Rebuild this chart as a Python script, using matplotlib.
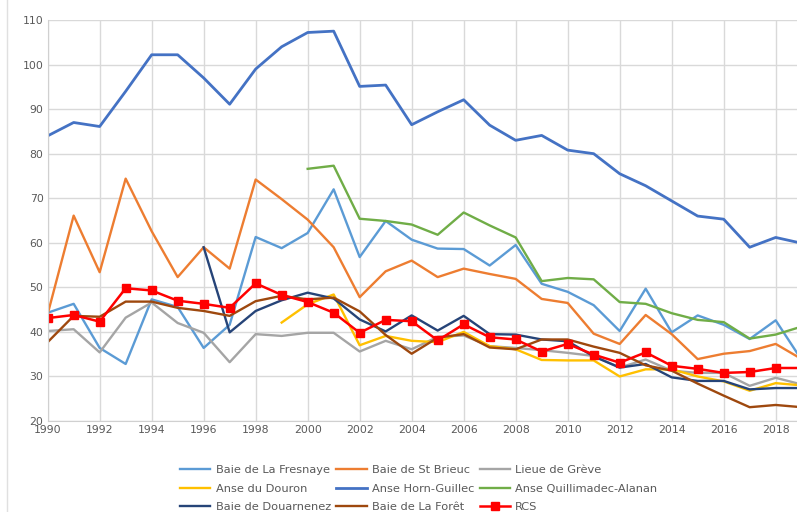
import numpy as np
import matplotlib.pyplot as plt
from matplotlib.lines import Line2D

years = np.arange(1990, 2020)

fresnaye = [44.3, 46.3, 36.4, 32.8, 47.3, 45.6, 36.4, 41.6, 61.3, 58.8, 62.2, 72.0, 56.8, 64.9,
            60.7, 58.7, 58.6, 54.9, 59.5, 50.8, 49.0, 46.0, 40.2, 49.7, 39.9, 43.7, 41.6, 38.4,
            42.6, 33.7]
st_brieuc = [44.0, 66.1, 53.4, 74.4, 62.6, 52.3, 59.0, 54.2, 74.2, 69.8, 65.2, 59.0, 47.8, 53.6,
             56.0, 52.3, 54.2, 53.0, 51.9, 47.4, 46.5, 39.6, 37.3, 43.8, 39.5, 33.9, 35.1, 35.7,
             37.3, 33.9]
greve = [40.2, 40.6, 35.4, 43.2, 46.6, 42.0, 39.8, 33.2, 39.5, 39.1, 39.8, 39.8, 35.6, 38.0,
         36.1, 38.9, 39.2, 36.8, 36.4, 35.9, 35.3, 34.6, 32.0, 33.8, 31.3, 30.8, 30.8, 27.9,
         29.7, 28.2]
douron = [None] * 9 + [42.1, 46.2, 48.4, 37.0, 39.1, 38.0, 37.7, 40.0, 36.8, 36.1, 33.7, 33.6,
                       33.6, 30.0, 31.6, 31.6, 30.0, 28.9, 26.8, 28.5, 28.0]
horn_guillec = [84.0, 87.0, 86.1, 94.0, 102.2, 102.2, 97.0, 91.1, 99.0, 104.0, 107.2, 107.5,
                95.1, 95.4, 86.5, 89.4, 92.1, 86.4, 83.0, 84.1, 80.8, 80.0, 75.5, 72.8, 69.4,
                66.0, 65.3, 59.0, 61.2, 59.9]
quillimadec = [None] * 10 + [76.6, 77.3, 65.4, 64.9, 64.1, 61.8, 66.8, 63.9, 61.2, 51.4, 52.1,
                             51.8, 46.7, 46.3, 44.2, 42.7, 42.2, 38.5, 39.4, 41.2]
douarnenez = [None] * 6 + [59.0, 39.9, 44.7, 47.1, 48.8, 47.5, 42.8, 40.1, 43.7, 40.3, 43.6,
                           39.5, 39.4, 38.3, 37.9, 34.5, 32.0, 32.8, 29.8, 29.0, 29.0, 27.1,
                           27.4, 27.4]
la_foret = [37.7, 43.6, 43.4, 46.8, 46.8, 45.4, 44.7, 43.6, 46.9, 48.1, 47.3, 47.7, 44.6, 39.3,
            35.1, 38.7, 39.5, 36.5, 36.1, 38.3, 38.3, 36.7, 35.3, 32.5, 31.3, 28.4, 25.7, 23.1,
            23.6, 23.1]
rcs = [43.1, 43.8, 42.3, 49.8, 49.3, 47.0, 46.3, 45.4, 50.9, 48.3, 46.7, 44.3, 39.8, 42.7,
       42.4, 38.1, 41.7, 38.8, 38.3, 35.6, 37.3, 34.9, 33.1, 35.4, 32.4, 31.7, 30.8, 31.0,
       31.9, 31.9]

series = [
    ("Baie de La Fresnaye", fresnaye, "#5B9BD5"),
    ("Baie de St Brieuc", st_brieuc, "#ED7D31"),
    ("Lieue de Grève", greve, "#A5A5A5"),
    ("Anse du Douron", douron, "#FFC000"),
    ("Anse Horn-Guillec", horn_guillec, "#4472C4"),
    ("Anse Quillimadec-Alanan", quillimadec, "#70AD47"),
    ("Baie de Douarnenez", douarnenez, "#264478"),
    ("Baie de La Forêt", la_foret, "#9E480E"),
]

fig = plt.figure(figsize=(7.97, 5.12), dpi=100)
ax = fig.add_axes([0.0598, 0.1777, 0.9402, 0.7832])

handles = {}
for name, vals, col in series:
    v = np.array([np.nan if x is None else x for x in vals], dtype=float)
    lw = 2.0 if name == "Anse Horn-Guillec" else 1.7
    h, = ax.plot(years, v, color=col, lw=lw, label=name)
    handles[name] = h
h, = ax.plot(years, rcs, color="#FF0000", lw=1.8, marker="s", markersize=6, label="RCS")
handles["RCS"] = h

ax.set_xlim(1990, 2018.82)
ax.set_ylim(20, 110)
ax.set_xticks(np.arange(1990, 2019, 2))
ax.set_yticks(np.arange(20, 111, 10))
ax.grid(True, color="#D9D9D9", lw=1)
ax.set_axisbelow(True)
for s in ["top", "right"]:
    ax.spines[s].set_visible(False)
for s in ["left", "bottom"]:
    ax.spines[s].set_color("#D0D0D0")
ax.tick_params(length=0, labelsize=7.8, colors="#595959", pad=3)

# legend filled column-wise, reorder to get the row layout
order = ["Baie de La Fresnaye", "Anse du Douron", "Baie de Douarnenez",
         "Baie de St Brieuc", "Anse Horn-Guillec", "Baie de La Forêt",
         "Lieue de Grève", "Anse Quillimadec-Alanan", "RCS"]
leg = fig.legend([handles[n] for n in order], order, ncol=3, loc="upper left",
                 bbox_to_anchor=(0.219, 0.102), frameon=False, fontsize=8.2,
                 handlelength=2.65, handletextpad=0.45, columnspacing=0.5,
                 labelspacing=0.72, borderpad=0)
for t in leg.get_texts():
    t.set_color("#595959")

fig.add_artist(Line2D([7 / 797, 7 / 797], [0, 1], transform=fig.transFigure,
                      color="#E0E0E0", lw=1))

fig.savefig("out.png", dpi=100)
